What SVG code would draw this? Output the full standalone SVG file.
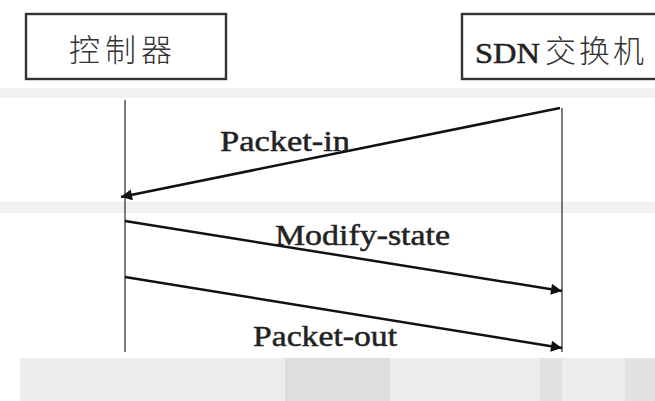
<svg xmlns="http://www.w3.org/2000/svg" width="655" height="401" viewBox="0 0 655 401">
  <defs>
    <marker id="arrow" viewBox="0 0 10 10" refX="10" refY="5" markerWidth="16" markerHeight="11" markerUnits="userSpaceOnUse" orient="auto">
      <path d="M0,0 L10,5 L0,10 z" fill="#111"/>
    </marker>
    <style>
      .box { fill: #fff; stroke: #333; stroke-width: 2.4; }
      .life { stroke: #444; stroke-width: 1.4; fill: none; }
      .msg { stroke: #111; stroke-width: 2.5; fill: none; marker-end: url(#arrow); }
      .lbl { font-family: "Liberation Serif", "Noto Sans CJK SC", serif; font-size: 30px; fill: #222; stroke: #222; stroke-width: 0.5; }
      .cn { font-family: "Noto Sans CJK SC", sans-serif; font-size: 31px; fill: #333; font-weight: 300; }
      .band { fill: #ececec; }
    </style>
  </defs>

  <rect width="655" height="401" fill="#fff"/>

  <!-- light grey bands behind the sequence -->
  <g id="background">
    <rect class="band" x="0" y="88" width="655" height="10" opacity="0.7"/>
    <rect class="band" x="0" y="202" width="655" height="11" opacity="0.7"/>
    <rect class="band" x="20" y="358" width="635" height="43"/>
    <rect x="285" y="358" width="105" height="43" fill="#dedede"/>
    <rect x="540" y="358" width="22" height="43" fill="#e2e2e2"/>
    <rect x="625" y="358" width="30" height="43" fill="#e2e2e2"/>
  </g>

  <!-- participant: controller -->
  <g id="controller">
    <rect class="box" x="26" y="14" width="200" height="65"/>
    <text class="cn" x="123" y="61" text-anchor="middle" letter-spacing="5">控制器</text>
  </g>

  <!-- participant: SDN switch -->
  <g id="switch">
    <rect class="box" x="462" y="14" width="200" height="65"/>
    <text class="lbl" x="475" y="63" font-size="33" textLength="65" lengthAdjust="spacingAndGlyphs">SDN</text>
    <text class="cn" x="545" y="62" font-size="32" letter-spacing="3">交换机</text>
  </g>

  <!-- lifelines and messages -->
  <g id="connectors">
    <line class="life" x1="125" y1="100" x2="125" y2="352"/>
    <line class="life" x1="562" y1="108" x2="562" y2="352"/>

    <line class="msg" x1="560" y1="108" x2="121" y2="197"/>
    <line class="msg" x1="125" y1="221" x2="562" y2="291"/>
    <line class="msg" x1="125" y1="277" x2="562" y2="348"/>
  </g>

  <g id="labels">
    <text class="lbl" x="220" y="151" textLength="130" lengthAdjust="spacingAndGlyphs">Packet-in</text>
    <text class="lbl" x="275" y="245" textLength="175" lengthAdjust="spacingAndGlyphs">Modify-state</text>
    <text class="lbl" x="253" y="346" textLength="144" lengthAdjust="spacingAndGlyphs">Packet-out</text>
  </g>
</svg>
